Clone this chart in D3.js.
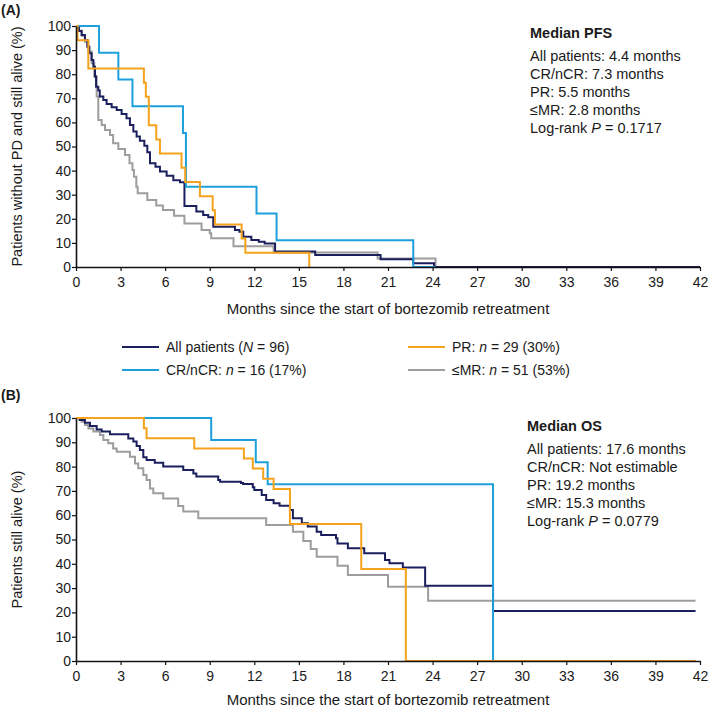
<!DOCTYPE html>
<html>
<head>
<meta charset="utf-8">
<script src="https://cdn.jsdelivr.net/npm/d3@7"></script>
<style>
  html, body { margin: 0; padding: 0; background: #fff; }
  svg text { font-family: "Liberation Sans", Arial, Helvetica, sans-serif; fill: #1a1a1a; }
</style>
</head>
<body>
<svg id="chart" width="709" height="708"></svg>
<script>
// ---------------- DATA ----------------
const xTicks = [0, 3, 6, 9, 12, 15, 18, 21, 24, 27, 30, 33, 36, 39, 42];
const yTicks = [0, 10, 20, 30, 40, 50, 60, 70, 80, 90, 100];

const seriesNames = ["All patients", "CR/nCR", "PR", "≤MR"];
const seriesColors = ["#1b1f5e", "#1ea0dc", "#f5a21c", "#9d9d9d"];

// Panel A: PFS  [month, percent] step points
const pfsAll = [[0,100],[0.2,97.9],[0.38,96.3],[0.6,94.2],[0.76,91.4],[0.9,88.7],[1.05,85.9],[1.17,83.1],[1.28,79],[1.35,74.8],[1.5,73.2],[1.6,70.7],[1.84,69.3],[2.06,67.6],[2.4,66.3],[2.74,65.1],[3.07,63.5],[3.4,61.7],[3.63,58.9],[3.86,56.2],[4.08,54.1],[4.3,52.4],[4.6,50.3],[4.8,47.6],[4.98,43],[5.35,41.6],[5.65,39.6],[6.1,37.9],[6.55,36],[7.0,35.2],[7.3,25.3],[8.1,23],[8.56,21.6],[8.9,20.6],[9.24,16.7],[10.7,15.4],[11.0,14.6],[11.26,12.6],[11.8,11.2],[12.3,10.5],[12.7,9.8],[13.4,6.4],[16.1,5],[20.5,3.2],[22.7,1.6],[24.1,0],[42,0]];
const pfsCR = [[0,100],[1.55,88.9],[2.85,77.8],[3.8,66.7],[7.2,55.6],[7.4,33.3],[12.15,22.2],[13.5,11.1],[22.7,0],[24.2,0]];
const pfsPR = [[0,100],[0.1,94.1],[0.83,82.4],[4.57,76.5],[4.7,70.6],[4.9,58.8],[5.4,52.9],[5.65,47.1],[7.1,41.2],[7.35,35.3],[8.34,29.4],[9.2,23.5],[9.35,17.6],[11.15,11.8],[11.4,5.9],[15.7,0]];
const pfsMR = [[0,100],[0.2,98],[0.38,96],[0.6,93.5],[0.83,89.4],[1.05,84.5],[1.23,79],[1.39,70.7],[1.5,61],[1.73,58.9],[1.95,56.8],[2.29,54.8],[2.5,51.3],[2.85,49],[3.3,46.5],[3.6,43],[3.8,40.2],[3.9,37.5],[4.06,33.3],[4.15,30.6],[4.8,27.8],[5.4,25.5],[5.85,23.7],[6.6,21.3],[7.3,18.1],[8.45,15.4],[9.0,14],[9.1,11.9],[10.6,8.6],[13.3,6.0],[20.3,3.5],[24.2,0]];

// Panel B: OS
const osAll = [[0,100],[0.27,99.2],[0.6,98],[0.94,96.7],[1.39,95.3],[1.73,94.4],[2.29,93.3],[3.52,91.6],[3.86,90.3],[4.08,88.5],[4.3,86.8],[4.53,83.8],[4.75,82.7],[5.3,81.6],[5.87,80],[7.22,78.6],[7.9,77.2],[8.1,75.9],[9.57,74.5],[9.7,73.8],[11.1,73.2],[11.25,72.8],[11.9,71.5],[12.0,70.4],[12.5,68.3],[12.8,66.3],[13.3,64.9],[13.7,63.9],[14.4,62.1],[14.6,58.7],[15.2,56.7],[15.6,55.3],[16.2,53.2],[16.5,51.9],[17.5,50.5],[17.6,48.4],[18.3,46.4],[19.4,44.3],[20.8,41.6],[21.1,40.2],[22.0,38.5],[23.5,31],[28.07,20.6],[41.7,20.6]];
const osCR = [[0,100],[9.1,90.9],[12.1,81.8],[12.9,72.7],[28.07,0],[41.7,0]];
const osPR = [[0,100],[4.57,95.8],[4.75,91.7],[7.96,87.5],[11.3,83.3],[11.9,79.2],[12.6,75],[13.3,70.8],[14.4,56.4],[19.2,37.9],[22.2,0],[41.7,0]];
const osMR = [[0,100],[0.2,99.3],[0.38,98.5],[0.6,97.1],[0.83,95.7],[1.17,94.4],[1.61,93],[1.84,90.9],[2.17,89.6],[2.5,87.5],[2.74,86.1],[3.63,84.1],[3.97,81.3],[4.19,79.3],[4.53,76.5],[4.75,74.5],[4.98,71],[5.2,69],[5.87,66.9],[6.88,63.8],[7.22,61.5],[8.23,58.7],[12.8,56],[14.6,53.2],[15.3,49.4],[15.8,46.1],[16.2,42.9],[17.6,39.2],[18.3,35.4],[21.0,30.6],[23.7,24.8],[41.7,24.8]];

const pfsNotes = ["All patients: 4.4 months", "CR/nCR: 7.3 months", "PR: 5.5 months", "≤MR: 2.8 months"];
const pfsP = "0.1717";
const osNotes = ["All patients: 17.6 months", "CR/nCR: Not estimable", "PR: 19.2 months", "≤MR: 15.3 months"];
const osP = "0.0779";

// ---------------- DRAW ----------------
const svg = d3.select("#chart");
const x = d3.scaleLinear().domain([0, 42]).range([76, 700]);

function panel(cfg) {
  const y = d3.scaleLinear().domain([0, 100]).range([cfg.y0, cfg.y100]);
  const g = svg.append("g");

  g.append("text").attr("x", 1).attr("y", cfg.letterY)
    .attr("font-size", 14).attr("font-weight", "bold").text(cfg.letter);

  const line = d3.line().x(d => x(d[0])).y(d => y(d[1])).curve(d3.curveStepAfter);
  const order = [3, 0, 1, 2];
  order.forEach(i => {
    g.append("path").datum(cfg.series[i])
      .attr("d", line).attr("fill", "none")
      .attr("stroke", seriesColors[i]).attr("stroke-width", 2)
      .attr("stroke-linejoin", "miter");
  });

  const ya = g.append("g").attr("transform", `translate(${x(0)},0)`)
    .call(d3.axisLeft(y).tickValues(yTicks).tickSize(4).tickPadding(1).tickSizeOuter(0));
  const xa = g.append("g").attr("transform", `translate(0,${cfg.y0})`)
    .call(d3.axisBottom(x).tickValues(xTicks).tickSize(4).tickPadding(6).tickSizeOuter(0));
  [ya, xa].forEach(a => {
    a.select(".domain").attr("stroke", "#111").attr("stroke-width", 1.6);
    a.selectAll(".tick line").attr("stroke", "#111").attr("stroke-width", 1.2);
    a.selectAll(".tick text").attr("font-size", 14).attr("fill", "#1a1a1a")
      .attr("font-family", "'Liberation Sans', Arial, sans-serif");
  });

  g.append("text").attr("x", 388).attr("y", cfg.xTitleY).attr("text-anchor", "middle")
    .attr("font-size", 15).text("Months since the start of bortezomib retreatment");
  g.append("text").attr("transform", `translate(22,${(cfg.y0 + cfg.y100) / 2}) rotate(-90)`)
    .attr("text-anchor", "middle").attr("font-size", 14.5).text(cfg.yTitle);

  const ann = g.append("g").attr("transform", `translate(${cfg.annX},0)`);
  ann.append("text").attr("y", cfg.annY).attr("font-size", 14.5).attr("font-weight", "bold").text(cfg.annTitle);
  cfg.notes.forEach((t, i) => {
    ann.append("text").attr("y", cfg.annY + 23 + i * 18).attr("font-size", 14.5).text(t);
  });
  const pt = ann.append("text").attr("y", cfg.annY + 23 + 4 * 18).attr("font-size", 14.5);
  pt.append("tspan").text("Log-rank ");
  pt.append("tspan").attr("font-style", "italic").text("P");
  pt.append("tspan").text(" = " + cfg.p);
}

panel({
  letter: "(A)", letterY: 15, y0: 267, y100: 26, xTitleY: 314,
  yTitle: "Patients without PD and still alive (%)",
  series: [pfsAll, pfsCR, pfsPR, pfsMR],
  annX: 530, annY: 38, annTitle: "Median PFS", notes: pfsNotes, p: pfsP
});
panel({
  letter: "(B)", letterY: 400, y0: 661, y100: 418, xTitleY: 705,
  yTitle: "Patients still alive (%)",
  series: [osAll, osCR, osPR, osMR],
  annX: 527, annY: 431, annTitle: "Median OS", notes: osNotes, p: osP
});

const legendItems = [
  { i: 0, col: 0, row: 0, parts: [["All patients (", false], ["N", true], [" = 96)", false]] },
  { i: 2, col: 1, row: 0, parts: [["PR: ", false], ["n", true], [" = 29 (30%)", false]] },
  { i: 1, col: 0, row: 1, parts: [["CR/nCR: ", false], ["n", true], [" = 16 (17%)", false]] },
  { i: 3, col: 1, row: 1, parts: [["≤MR: ", false], ["n", true], [" = 51 (53%)", false]] }
];
const colX = [122, 408];
const rowY = [347, 370];
const lg = svg.append("g");
legendItems.forEach(it => {
  const lx = colX[it.col], ly = rowY[it.row];
  lg.append("line").attr("x1", lx).attr("x2", lx + 37).attr("y1", ly).attr("y2", ly)
    .attr("stroke", seriesColors[it.i]).attr("stroke-width", 2);
  const t = lg.append("text").attr("x", lx + 44).attr("y", ly + 5).attr("font-size", 14);
  it.parts.forEach(p => {
    const s = t.append("tspan").text(p[0]);
    if (p[1]) s.attr("font-style", "italic");
  });
});
</script>
</body>
</html>
